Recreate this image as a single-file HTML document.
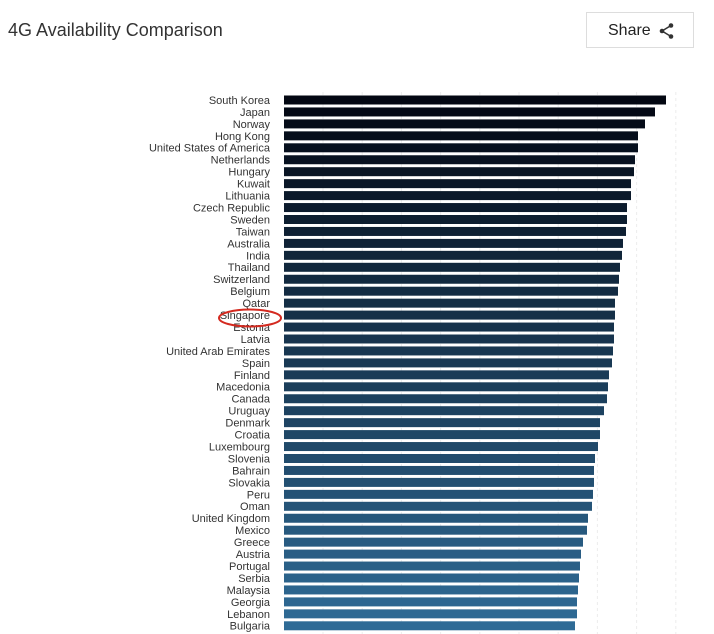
<!DOCTYPE html>
<html><head><style>
body{margin:0;width:714px;height:634px;background:#fff;font-family:"Liberation Sans",sans-serif;position:relative;overflow:hidden}
.t{position:absolute;left:8px;top:20px;font-size:18px;color:#333}
.sh{position:absolute;left:586px;top:12px;width:108px;height:36px;border:1px solid #ddd;box-sizing:border-box;font-size:16px;color:#222}
</style></head><body>
<div class="t">4G Availability Comparison</div>
<div class="sh"><span style="position:absolute;left:21px;top:9px">Share</span>
<svg style="position:absolute;left:71px;top:9px" width="18" height="18"><circle cx="13" cy="3.5" r="2.3" fill="#333"/><circle cx="4" cy="9" r="2.3" fill="#333"/><circle cx="13" cy="14.5" r="2.3" fill="#333"/><path d="M13 3.5L4 9L13 14.5" stroke="#333" stroke-width="1.5" fill="none"/></svg></div>
<svg id="c" width="714" height="634" style="position:absolute;left:0;top:0"></svg>
<script>
var n=["South Korea","Japan","Norway","Hong Kong","United States of America","Netherlands","Hungary","Kuwait","Lithuania","Czech Republic","Sweden","Taiwan","Australia","India","Thailand","Switzerland","Belgium","Qatar","Singapore","Estonia","Latvia","United Arab Emirates","Spain","Finland","Macedonia","Canada","Uruguay","Denmark","Croatia","Luxembourg","Slovenia","Bahrain","Slovakia","Peru","Oman","United Kingdom","Mexico","Greece","Austria","Portugal","Serbia","Malaysia","Georgia","Lebanon","Bulgaria"];
var e=[666,655,645,638,638,635,634,631,631,627,627,626,623,622,620,619,618,615,615,614,614,613,612,609,608,607,604,600,600,598,595,594,594,593,592,588,587,583,581,580,579,578,577,577,575];
var s="";
for(var g=323;g<=676;g+=39.2)s+='<line x1="'+g+'" y1="92" x2="'+g+'" y2="634" stroke="#ececec" stroke-dasharray="3,3"/>';
var a=[3,7,18],b=[47,107,150];
for(var i=0;i<45;i++){var y=100+i*11.95,f=i/44;
var c="rgb("+a.map(function(v,k){return Math.round(v+(b[k]-v)*f)}).join(",")+")";
s+='<rect x="284" y="'+(y-4.5)+'" width="'+(e[i]-284)+'" height="9" fill="'+c+'"/>';
s+='<text x="270" y="'+(y+3.9)+'" text-anchor="end" font-size="11" fill="#333" font-family="Liberation Sans,sans-serif">'+n[i]+'</text>';}
s+='<ellipse cx="250" cy="318" rx="31" ry="8.5" fill="none" stroke="#d42a20" stroke-width="2"/>';
document.getElementById("c").innerHTML=s;
</script>
</body></html>
